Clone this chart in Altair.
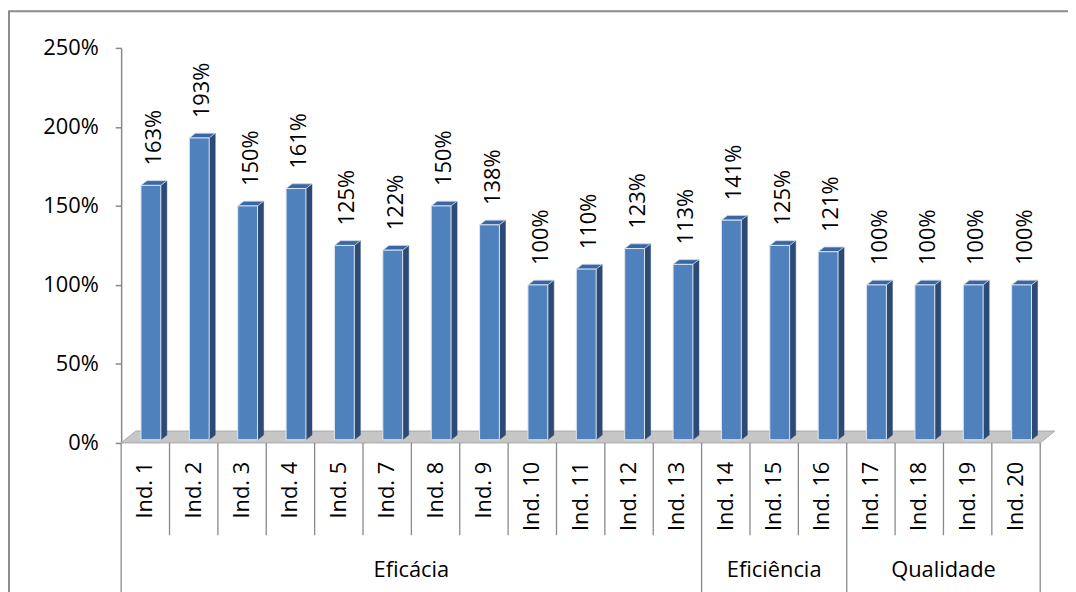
import altair as alt
import pandas as pd

# ---- data ----
categories = ["Ind. 1", "Ind. 2", "Ind. 3", "Ind. 4", "Ind. 5", "Ind. 7", "Ind. 8",
              "Ind. 9", "Ind. 10", "Ind. 11", "Ind. 12", "Ind. 13", "Ind. 14",
              "Ind. 15", "Ind. 16", "Ind. 17", "Ind. 18", "Ind. 19", "Ind. 20"]
values_pct = [163, 193, 150, 161, 125, 122, 150, 138, 100, 110, 123, 113,
              141, 125, 121, 100, 100, 100, 100]
group_names = ["Eficácia", "Eficiência", "Qualidade"]
group_sizes = [12, 3, 4]
y_ticks = [0, 0.5, 1.0, 1.5, 2.0, 2.5]

FONT = "Open Sans"
FS = 22
W, H = 926, 398
n = len(categories)
vals = [p / 100 for p in values_pct]

# pseudo-3D geometry (in scale units)
FL, FR, DX, DY, BASE = 0.41, 0.82, 0.125, 0.03, 0.02
FLOOR_DX, FLOOR_DY = 0.3, 0.075

GRAY = "#898989"
xs = alt.Scale(domain=[0, n], nice=False, zero=False)
ys = alt.Scale(domain=[0, 2.5], nice=False)
y_axis = alt.Axis(
    values=y_ticks, format=".0%", labelFont=FONT, labelFontSize=FS,
    labelColor="black", domainColor=GRAY, domainWidth=1.5, tickColor=GRAY,
    tickWidth=1.5, tickSize=6, labelPadding=17, grid=False, title=None)

bars = pd.DataFrame({"cat": categories, "i": list(range(n)), "v": vals})
bars["x0"] = bars.i + FL
bars["x1"] = bars.i + FR
bars["xl"] = bars.i + 0.68
bars["xc"] = bars.i + 0.5
bars["base"] = BASE
bars["label"] = [f"{p}%" for p in values_pct]

top_rows, side_rows = [], []
for i, v in enumerate(vals):
    a, b = i + FL, i + FR
    top_rows += [dict(k=i, x=a, y=v, y2=v),
                 dict(k=i, x=a + DX, y=v + DY, y2=v),
                 dict(k=i, x=b, y=v + DY, y2=v),
                 dict(k=i, x=b + DX, y=v + DY, y2=v + DY)]
    side_rows += [dict(k=i, x=b, y=v, y2=BASE),
                  dict(k=i, x=b + DX, y=v + DY, y2=BASE + DY)]
top_df = pd.DataFrame(top_rows)
side_df = pd.DataFrame(side_rows)

floor_df = pd.DataFrame({
    "x": [0, FLOOR_DX, n, n + FLOOR_DX],
    "y": [0, FLOOR_DY, FLOOR_DY, FLOOR_DY],
    "y2": [0, 0, 0, FLOOR_DY],
})

# group boundaries / label positions
bounds = [0]
for s in group_sizes:
    bounds.append(bounds[-1] + s)
group_df = pd.DataFrame({
    "g": group_names,
    "xc": [(bounds[k] + bounds[k + 1]) / 2 for k in range(len(group_names))],
})
short_df = pd.DataFrame({"b": [b for b in range(n + 1) if b not in bounds]})
long_df = pd.DataFrame({"b": bounds})

border = alt.Chart(pd.DataFrame({"a": [0]})).mark_rect(
    fill=None, stroke="#8C8C8C", strokeWidth=2
).encode(x=alt.value(-113), x2=alt.value(1200), y=alt.value(-37), y2=alt.value(700))

floor = alt.Chart(floor_df).mark_area(color="#C6C6C6", stroke="#A8A8A8", strokeWidth=1).encode(
    x=alt.X("x:Q", scale=xs, axis=None),
    y=alt.Y("y:Q", scale=ys, axis=y_axis, stack=None),
    y2="y2:Q",
)

short_rules = alt.Chart(short_df).mark_rule(color=GRAY, strokeWidth=1.3).encode(
    x=alt.X("b:Q", scale=xs, axis=None), y=alt.value(H), y2=alt.value(491)
)
long_rules = alt.Chart(long_df).mark_rule(color=GRAY, strokeWidth=1.3).encode(
    x=alt.X("b:Q", scale=xs, axis=None), y=alt.value(H), y2=alt.value(600)
)

side = alt.Chart(side_df).mark_area(color="#2C4A74", stroke="#2C4A74", strokeWidth=0.5).encode(
    x=alt.X("x:Q", scale=xs, axis=None),
    y=alt.Y("y:Q", scale=ys, axis=y_axis, stack=None),
    y2="y2:Q",
    detail="k:N",
)
top = alt.Chart(top_df).mark_area(color="#3A66A3", stroke="#C9D6EA", strokeWidth=0.8).encode(
    x=alt.X("x:Q", scale=xs, axis=None),
    y=alt.Y("y:Q", scale=ys, axis=y_axis, stack=None),
    y2="y2:Q",
    detail="k:N",
)

front = alt.Chart(bars).mark_rect(fill="#4F81BD", stroke="#DCE6F2", strokeWidth=1).encode(
    x=alt.X("x0:Q", scale=xs, axis=None),
    x2="x1:Q",
    y=alt.Y("v:Q", scale=ys, axis=y_axis),
    y2="base:Q",
)

value_labels = alt.Chart(bars).mark_text(
    angle=270, align="left", baseline="middle", dx=20, font=FONT, fontSize=FS, color="black"
).encode(
    x=alt.X("xl:Q", scale=xs, axis=None),
    y=alt.Y("v:Q", scale=ys, axis=y_axis),
    text="label:N",
)

cat_labels = alt.Chart(bars).mark_text(
    angle=270, align="right", baseline="middle", font=FONT, fontSize=FS, color="black"
).encode(
    x=alt.X("xc:Q", scale=xs, axis=None),
    y=alt.value(417),
    text="cat:N",
)

group_labels = alt.Chart(group_df).mark_text(
    align="center", baseline="middle", font=FONT, fontSize=FS, color="black"
).encode(
    x=alt.X("xc:Q", scale=xs, axis=None),
    y=alt.value(526),
    text="g:N",
)

chart = alt.layer(
    border, floor, short_rules, long_rules, side, top, front,
    value_labels, cat_labels, group_labels
).properties(
    width=W, height=H,
    padding={"left": 114, "top": 38, "right": 28, "bottom": 148},
    autosize=alt.AutoSizeParams(type="none"),
    background="white",
).configure_view(stroke=None)

chart.save("out.html", embed_options={"renderer": "svg", "actions": False})
